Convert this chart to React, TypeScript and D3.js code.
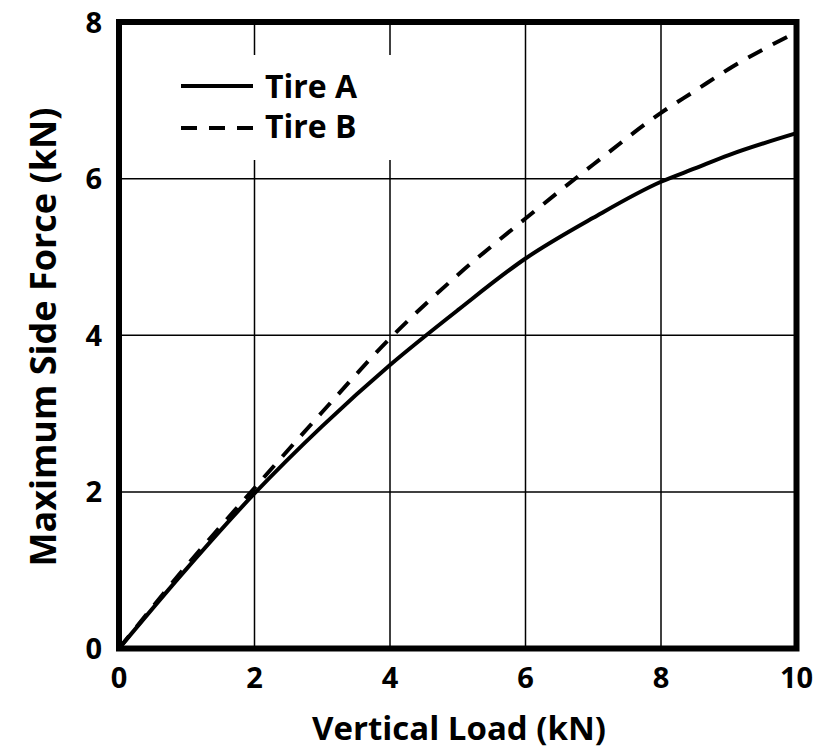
import React from "react";
import * as d3 from "d3";

const loads = [0, 1, 2, 3, 4, 5, 6, 7, 8, 8.5, 9, 10];
const tireA = [0, 1.02, 1.98, 2.84, 3.62, 4.32, 4.98, 5.5, 5.96, 6.13, 6.3, 6.58];
const tireB = [0, 1.06, 2.05, 3.02, 3.96, 4.77, 5.49, 6.18, 6.84, 7.12, 7.4, 7.87];
const xTicks = [0, 2, 4, 6, 8, 10];
const yTicks = [0, 2, 4, 6, 8];
const seriesNames = ["Tire A", "Tire B"];

const W = 817;
const H = 753;
const FONT = "'Open Sans', 'DejaVu Sans', sans-serif";

export default function App() {
  const x = d3.scaleLinear().domain([0, 10]).range([119, 796.5]);
  const y = d3.scaleLinear().domain([0, 8]).range([648.5, 22]);
  const line = d3
    .line<number>()
    .x((_, i) => x(loads[i]))
    .y((d) => y(d))
    .curve(d3.curveMonotoneX);

  return (
    <svg
      width={W}
      height={H}
      style={{ position: "absolute", left: 0, top: 0, background: "#fff" }}
      fontFamily={FONT}
    >
      {/* grid */}
      {xTicks.map((t) => (
        <line key={"gx" + t} x1={x(t)} x2={x(t)} y1={y(0)} y2={y(8)} stroke="#000" strokeWidth={1.5} />
      ))}
      {yTicks.map((t) => (
        <line key={"gy" + t} x1={x(0)} x2={x(10)} y1={y(t)} y2={y(t)} stroke="#000" strokeWidth={1.5} />
      ))}
      {/* legend background */}
      <rect x={160} y={55} width={235} height={105} fill="#fff" />
      {/* curves */}
      <path d={line(tireA) || ""} fill="none" stroke="#000" strokeWidth={4} />
      <path d={line(tireB) || ""} fill="none" stroke="#000" strokeWidth={4} strokeDasharray="16 12" />
      {/* frame */}
      <rect
        x={x(0)}
        y={y(8)}
        width={x(10) - x(0)}
        height={y(0) - y(8)}
        fill="none"
        stroke="#000"
        strokeWidth={6}
      />
      {/* legend */}
      <line x1={181} x2={253} y1={86} y2={86} stroke="#000" strokeWidth={4} />
      <line x1={181} x2={253} y1={128} y2={128} stroke="#000" strokeWidth={4} strokeDasharray="16 12" />
      <text x={265} y={98} fontSize={32} fontWeight={700}>{seriesNames[0]}</text>
      <text x={265} y={138} fontSize={32} fontWeight={700}>{seriesNames[1]}</text>
      {/* tick labels */}
      {xTicks.map((t) => (
        <text key={"xl" + t} x={x(t)} y={688} fontSize={29} fontWeight={700} textAnchor="middle">
          {t}
        </text>
      ))}
      {yTicks.map((t) => (
        <text
          key={"yl" + t}
          x={102}
          y={y(t) + 10.5}
          fontSize={29}
          fontWeight={700}
          textAnchor="end"
        >
          {t}
        </text>
      ))}
      {/* axis titles */}
      <text x={459} y={740} fontSize={33} fontWeight={700} textAnchor="middle">
        Vertical Load (kN)
      </text>
      <text
        transform={`translate(56, 337) rotate(-90)`}
        fontSize={36}
        fontWeight={700}
        textAnchor="middle"
      >
        Maximum Side Force (kN)
      </text>
    </svg>
  );
}
